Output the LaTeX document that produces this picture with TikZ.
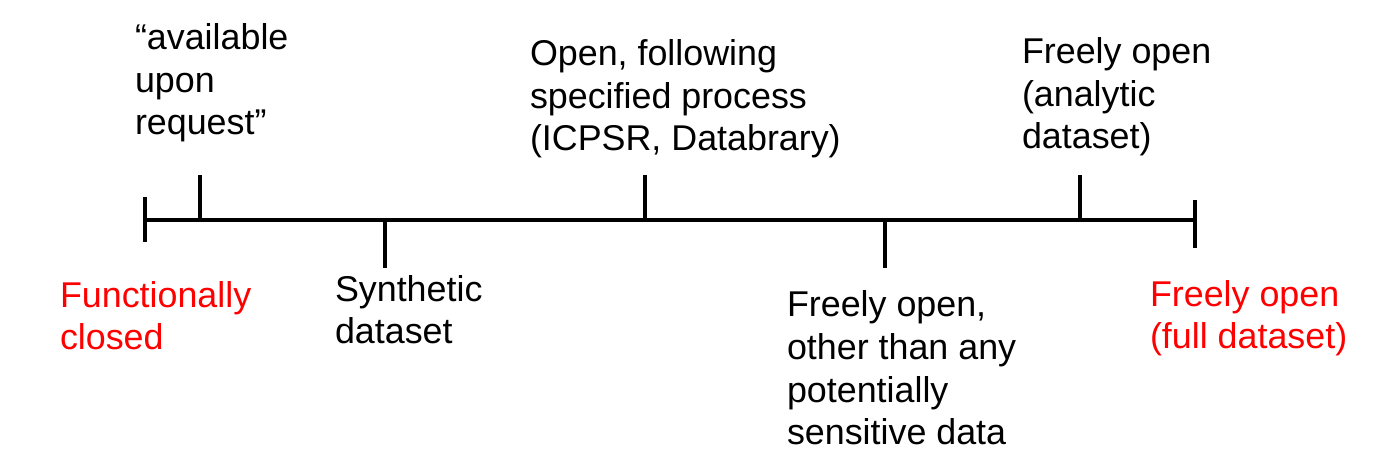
\documentclass[tikz,border=0pt]{standalone}
\usepackage{fontspec}
\setmainfont{Liberation Sans}
\usetikzlibrary{positioning}

\begin{document}
\begin{tikzpicture}[x=0.02cm, y=-0.02cm, line width=2.3pt,
  lbl/.style={font=\fontsize{20.4}{24.3}\selectfont, align=left, anchor=base west, inner sep=0pt},
  redlbl/.style={lbl, text=red}]
\useasboundingbox (0,0) rectangle (1377,462);

% the scale line and its end marks
\coordinate (L) at (145,220);
\coordinate (R) at (1195,220);
\draw (L) -- (R);
\draw (145,197) -- (145,242);
\draw (1195,200) -- (1195,248);

% ticks above and below
\draw (200,175) -- (200,220);
\draw (385,220) -- (385,268);
\draw (645,175) -- (645,220);
\draw (885,220) -- (885,268);
\draw (1080,175) -- (1080,220);

% labels above (placed by their last line)
\node[lbl] (req) at (133,135) {“available\\upon\\request”};
\node[lbl] (proc) at (528,151) {Open, following\\specified process\\(ICPSR, Databrary)};
\node[lbl] (anly) at (1020,149) {Freely open\\(analytic\\dataset)};

% labels below
\node[redlbl] (closed) at (58,350) {Functionally\\closed};
\node[lbl] (synth) at (333,344) {Synthetic\\dataset};
\node[lbl] (sens) at (785,445) {Freely open,\\other than any\\potentially\\sensitive data};
\node[redlbl] (full) at (1148,349) {Freely open\\(full dataset)};
\end{tikzpicture}
\end{document}
